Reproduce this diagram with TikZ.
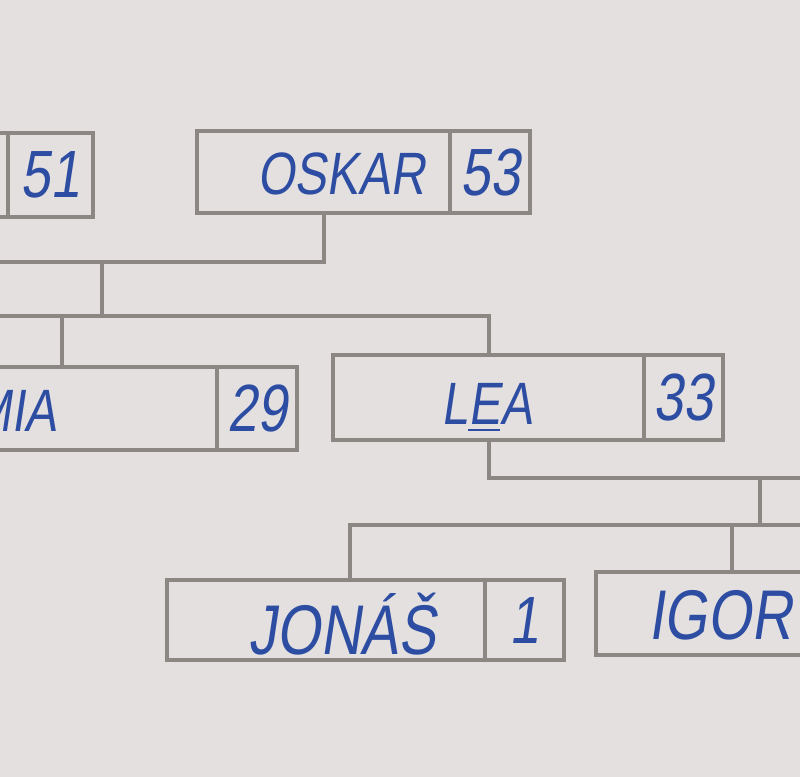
\documentclass[tikz,border=0pt]{standalone}
\usepackage{fontspec}
\newfontfamily\handfont{Liberation Sans}[FakeSlant=0.15,FakeStretch=0.8]
\usepackage{tikz}
\definecolor{paper}{HTML}{E4E0E0}
\definecolor{frame}{HTML}{8C8782}
\definecolor{ink}{HTML}{2D4DA3}

\begin{document}
\begin{tikzpicture}[x=0.01cm,y=-0.01cm,
  cell/.style={draw=frame,line width=1.15pt,rectangle,inner sep=0pt,outer sep=0pt,anchor=north west,
    text=ink,font=\handfont\fontsize{19}{19}\selectfont},
  namecell/.style={cell,minimum width=3.11cm,minimum height=0.83cm},
  agecell/.style={cell,minimum width=0.8cm,minimum height=0.83cm},
  hand/.style={text=ink,font=\handfont\fontsize{17}{17}\selectfont,inner sep=0pt,anchor=base},
  bighand/.style={hand,font=\handfont\fontsize{20}{20}\selectfont},
  link/.style={draw=frame,line width=1.15pt}]
\useasboundingbox (0,0) rectangle (800,777);
\fill[paper] (0,0) rectangle (800,777);
\clip (0,0) rectangle (800,777);

% grandparents
\node[namecell,minimum width=2.53cm,minimum height=0.84cm] (dad) at (-245,133) {};
\node[agecell,minimum width=0.85cm,minimum height=0.84cm] (dadage) at (dad.north east) {51};
\node[namecell,minimum width=2.53cm,minimum height=0.82cm] (oskar) at (197,131) {};
\node[agecell,minimum height=0.82cm] (oskarage) at (oskar.north east) {53};
\node[hand] (oskarlabel) at (341,195) {OSKAR};

% parents
\node[namecell] (mia) at (-94,367) {};
\node[agecell] (miaage) at (mia.north east) {29};
\node[hand] (mialabel) at (14,432) {MIA};
\node[namecell,minimum height=0.85cm] (lea) at (333,355) {};
\node[agecell,minimum width=0.79cm,minimum height=0.85cm] (leaage) at (lea.north east) {33};
\node[hand] (lealabel) at (487,425) {L\underline{E}A};

% children
\node[namecell,minimum width=3.18cm,minimum height=0.8cm] (jonas) at (167,580) {};
\node[agecell,minimum width=0.79cm,minimum height=0.8cm] (jonasage) at (jonas.north east) {1};
\node[bighand] (jonaslabel) at (342,655) {JONÁŠ};
\node[namecell] (igor) at (596,572) {};
\node[bighand] (igorlabel) at (720,640) {IGOR};

% connectors
\draw[link] (oskar.south) -- ++(0,49) coordinate (wed1) -| (dad.south);
\coordinate (wed1mid) at (102,262);
\coordinate (kidsL) at (-30,316);
\draw[link] (wed1mid) -- (wed1mid |- kidsL) coordinate (kids1);
\draw[link] (kidsL) -- (kids1) -| (lea.north);
\draw[link] (mia.north) -- (mia.north |- kidsL);

\coordinate (leapartner) at (830,478);
\coordinate (wed2mid) at (760,478);
\coordinate (kidsR) at (830,525);
\draw[link] (lea.south) |- (leapartner);
\draw[link] (wed2mid) -- (wed2mid |- kidsR);
\draw[link] ([xshift=.24cm]jonas.north) |- (kidsR);
\draw[link] ([xshift=-.2cm]igor.north) -- ([xshift=-.2cm]igor.north |- kidsR);
\end{tikzpicture}
\end{document}
